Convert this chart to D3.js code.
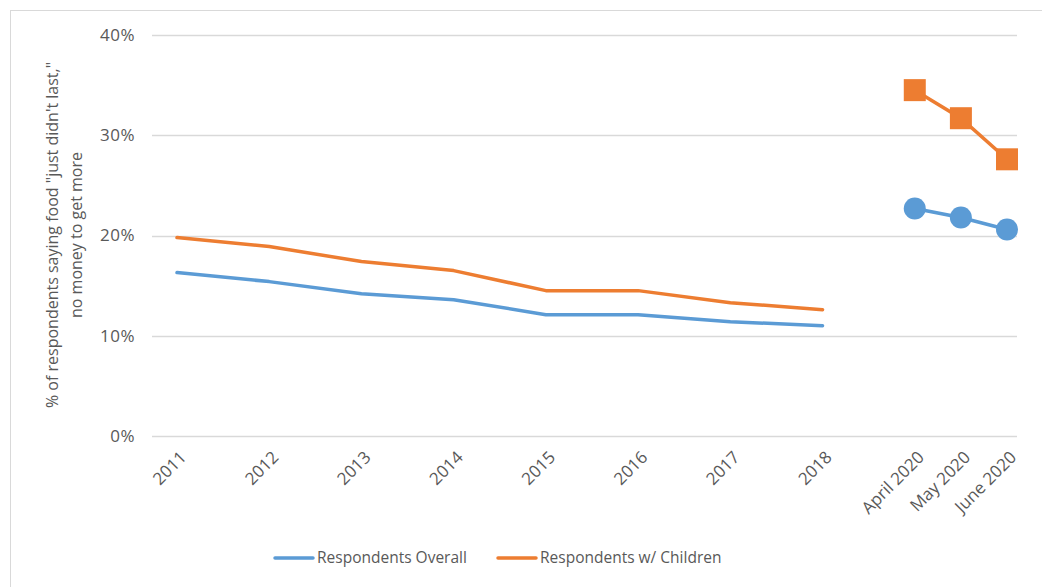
<!DOCTYPE html>
<html>
<head>
<meta charset="utf-8">
<script src="https://cdn.jsdelivr.net/npm/d3@7"></script>
<style>
  body { margin: 0; background: #fff; }
  text { font-family: "Open Sans", "Liberation Sans", sans-serif; fill: #595959; }
</style>
</head>
<body>
<svg id="chart" width="1042" height="587"></svg>
<script>
const categories = ['2011', '2012', '2013', '2014', '2015', '2016', '2017', '2018', 'April 2020', 'May 2020', 'June 2020'];
const slots = [0, 1, 2, 3, 4, 5, 6, 7, 8, 8.5, 9];
const overall = [16.3, 15.4, 14.2, 13.6, 12.1, 12.1, 11.4, 11.0, 22.7, 21.8, 20.6];
const children = [19.8, 18.9, 17.4, 16.5, 14.5, 14.5, 13.3, 12.6, 34.5, 31.7, 27.6];
const yTicks = [0, 10, 20, 30, 40];
const seriesNames = ['Respondents Overall', 'Respondents w/ Children'];
const colors = ['#5B9BD5', '#ED7D31'];

const svg = d3.select('#chart');

svg.append('rect')
  .attr('x', 10.5).attr('y', 10.5)
  .attr('width', 1040).attr('height', 590)
  .attr('fill', 'none').attr('stroke', '#d9d9d9');

const x = d3.scaleLinear().domain([0, 9]).range([177, 1007]);
const y = d3.scaleLinear().domain([0, 40]).range([436, 35]);

// gridlines
svg.append('g')
  .selectAll('line')
  .data(yTicks)
  .enter()
  .append('line')
  .attr('x1', 152).attr('x2', 1017)
  .attr('y1', d => Math.round(y(d)) + 0.5)
  .attr('y2', d => Math.round(y(d)) + 0.5)
  .attr('stroke', '#d9d9d9').attr('stroke-width', 1.3);

const yAxis = d3.axisLeft(y).tickValues(yTicks).tickFormat(d => d + '%').tickSize(0).tickPadding(0);
svg.append('g')
  .attr('transform', 'translate(135,0)')
  .call(yAxis)
  .call(g => g.select('.domain').remove())
  .selectAll('text')
  .style('font-size', '17px')
  .style('font-family', '"Open Sans", sans-serif')
  .style('letter-spacing', '0.5px')
  .style('fill', '#595959');

// x labels rotated
svg.append('g')
  .selectAll('text')
  .data(categories)
  .enter()
  .append('text')
  .attr('transform', (d, i) => `translate(${x(slots[i]) + 2},${450}) rotate(-45)`)
  .attr('text-anchor', 'end')
  .attr('dy', '0.7em')
  .style('font-size', '17px')
  .text(d => d);

// axis title
const title = svg.append('text')
  .attr('transform', 'translate(64,235) rotate(-90)')
  .attr('text-anchor', 'middle')
  .style('font-size', '16px');
title.append('tspan').attr('x', 0).attr('dy', '-0.35em').text('% of respondents saying food "just didn\'t last,"');
title.append('tspan').attr('x', 0).attr('dy', '1.5em').text('no money to get more');

const line = d3.line()
  .x(d => x(d[0]))
  .y(d => y(d[1]));

[overall, children].forEach((vals, s) => {
  const pts = vals.map((v, i) => [slots[i], v]);
  const early = pts.slice(0, 8);
  const late = pts.slice(8);
  svg.append('path')
    .attr('d', line(early))
    .attr('fill', 'none')
    .attr('stroke', colors[s])
    .attr('stroke-width', 3.5)
    .attr('stroke-linejoin', 'round')
    .attr('stroke-linecap', 'round');
  svg.append('path')
    .attr('d', line(late))
    .attr('fill', 'none')
    .attr('stroke', colors[s])
    .attr('stroke-width', 3.5);
  if (s === 0) {
    svg.append('g').selectAll('circle')
      .data(late)
      .enter()
      .append('circle')
      .attr('cx', d => x(d[0]))
      .attr('cy', d => y(d[1]))
      .attr('r', 11)
      .attr('fill', colors[s]);
  } else {
    svg.append('g').selectAll('rect')
      .data(late)
      .enter()
      .append('rect')
      .attr('x', d => x(d[0]) - 11)
      .attr('y', d => y(d[1]) - 11)
      .attr('width', 22)
      .attr('height', 22)
      .attr('fill', colors[s]);
  }
});

// legend
const legendX = [275, 498];
const legend = svg.append('g');
seriesNames.forEach((name, i) => {
  legend.append('line')
    .attr('x1', legendX[i]).attr('x2', legendX[i] + 38)
    .attr('y1', 558).attr('y2', 558)
    .attr('stroke', colors[i]).attr('stroke-width', 3.5)
    .attr('stroke-linecap', 'round');
  legend.append('text')
    .attr('x', legendX[i] + 42)
    .attr('y', 558)
    .attr('dy', '0.35em')
    .style('font-size', '15.5px')
    .text(name);
});
</script>
</body>
</html>
